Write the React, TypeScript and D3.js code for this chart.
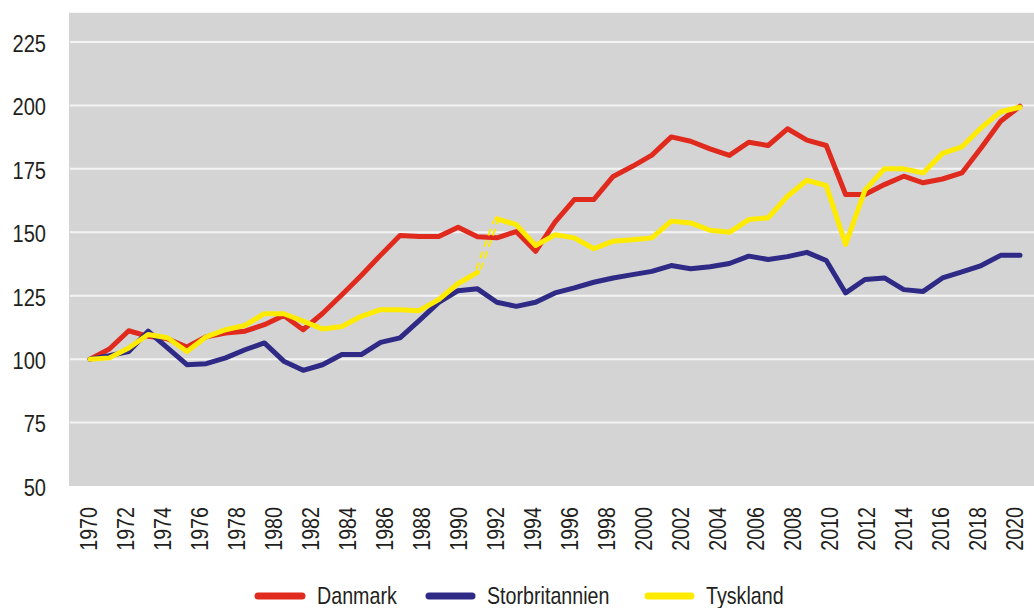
import React from "react";
import * as d3 from "d3";

// Tick labels on the category axis (every second year is labelled)
const axisYears: number[] = d3.range(1970, 2021, 2);
const yTicks: number[] = [50, 75, 100, 125, 150, 175, 200, 225];

// Series values (index 1970 = 100), 49 observations per series
const danmark: number[] = [
  100, 104, 111.2, 109, 108, 104.8, 108.8, 110.3, 111, 113.6,
  117.2, 111.6, 118, 125.4, 133, 141, 148.7, 148.3, 148.3, 152,
  148.2, 147.8, 150.3, 142.5, 154, 162.9, 162.9, 172, 176, 180.4,
  187.6, 185.9, 182.9, 180.3, 185.5, 184.2, 190.8, 186.3, 184.2, 164.9,
  164.9, 168.8, 172.1, 169.5, 171, 173.4, 183.3, 193.8, 199.7,
];
const storbritannien: number[] = [
  100, 101.4, 103, 111, 104.4, 97.8, 98.2, 100.5, 103.7, 106.4,
  99.2, 95.6, 97.8, 101.8, 101.8, 106.6, 108.4, 115.3, 122.4, 127,
  127.7, 122.4, 120.8, 122.4, 126.1, 128.1, 130.3, 132, 133.3, 134.6,
  136.9, 135.6, 136.4, 137.7, 140.6, 139.3, 140.4, 142.1, 138.9, 126.1,
  131.4, 132, 127.4, 126.7, 132, 134.4, 136.9, 140.9, 140.9,
];
const tyskland: number[] = [
  100, 100.5, 104.4, 109.7, 108.4, 103, 108.8, 111.6, 113.3, 117.9,
  117.9, 115, 111.9, 112.9, 116.9, 119.5, 119.5, 119.1, 123.5, 129.8,
  134.2, 155.3, 153, 144.8, 149, 147.8, 143.5, 146.5, 147.1, 147.8,
  154.4, 153.7, 150.8, 150, 155, 155.7, 164.2, 170.5, 168.4, 145.2,
  166.6, 175, 175, 173.4, 181.1, 183.7, 191.2, 197.5, 199.3,
];
// index after which the German series has a break (reunification)
const tysklandBreakAfter = 20;

const seriesNames: string[] = ["Danmark", "Storbritannien", "Tyskland"];
const seriesColors: string[] = ["#DF2A1D", "#2E2A86", "#FFEB00"];

const FONT = "'Liberation Sans', Arial, sans-serif";
const SQUEEZE = 0.82;
const textColor = "#231F20";

function CText(props: {
  x: number;
  y: number;
  rotate?: number;
  anchor?: "start" | "middle" | "end";
  size?: number;
  children: React.ReactNode;
}) {
  const { x, y, rotate = 0, anchor = "start", size = 24, children } = props;
  return (
    <text
      transform={`translate(${x},${y}) rotate(${rotate}) scale(${SQUEEZE},1)`}
      dy="0.36em"
      textAnchor={anchor}
      fontSize={size}
      fill={textColor}
    >
      {children}
    </text>
  );
}

export default function App() {
  const W = 1034;
  const H = 608;
  const plotLeft = 69;
  const plotRight = 1034;

  const y = d3.scaleLinear().domain([50, 225]).range([486, 42]);
  const yTop = 236.5;
  const plotTop = y(yTop);
  const plotBottom = y(50);

  const n = danmark.length;
  const xIdx = d3.scaleLinear().domain([0, n - 1]).range([90, 1020]);
  const xYear = d3.scaleLinear().domain([1970, 2020]).range([88.5, 1014]);

  const line = d3
    .line<number>()
    .x((_, i) => xIdx(i))
    .y((d) => y(d));

  const tyskA = tyskland.slice(0, tysklandBreakAfter + 1);
  const tyskB = tyskland.slice(tysklandBreakAfter + 1);
  const lineB = d3
    .line<number>()
    .x((_, i) => xIdx(i + tysklandBreakAfter + 1))
    .y((d) => y(d));

  const bx0 = xIdx(tysklandBreakAfter) + 1;
  const by0 = y(tyskland[tysklandBreakAfter]) - 3;
  const bx1 = xIdx(tysklandBreakAfter + 1) - 1;
  const by1 = y(tyskland[tysklandBreakAfter + 1]) + 2;

  const legendItems = [
    { name: seriesNames[0], color: seriesColors[0], x0: 258, x1: 302, tx: 317 },
    { name: seriesNames[1], color: seriesColors[1], x0: 429, x1: 472, tx: 487 },
    { name: seriesNames[2], color: seriesColors[2], x0: 648, x1: 691, tx: 706 },
  ];
  const legendY = 595;

  const lineProps = {
    fill: "none",
    strokeWidth: 5,
    strokeLinejoin: "round" as const,
    strokeLinecap: "round" as const,
  };

  return (
    <svg
      width={W}
      height={H}
      style={{ position: "absolute", left: 0, top: 0, display: "block" }}
      fontFamily={FONT}
    >
      <rect x={0} y={0} width={W} height={H} fill="#ffffff" />
      <rect
        x={plotLeft}
        y={plotTop}
        width={plotRight - plotLeft}
        height={plotBottom - plotTop}
        fill="#D4D4D4"
      />
      {yTicks
        .filter((t) => t > 50)
        .map((t) => (
          <line
            key={"g" + t}
            x1={plotLeft + 1}
            x2={plotRight}
            y1={y(t)}
            y2={y(t)}
            stroke="#F4F4F4"
            strokeWidth={2}
          />
        ))}
      {yTicks.map((t) => (
        <CText key={"yl" + t} x={46} y={y(t) + 1} anchor="end" size={24.5}>
          {t}
        </CText>
      ))}
      {axisYears.map((yr) => (
        <CText key={"xl" + yr} x={xYear(yr)} y={507} rotate={-90} anchor="end">
          {yr}
        </CText>
      ))}

      <path d={line(danmark) || ""} stroke={seriesColors[0]} {...lineProps} />
      <path d={line(storbritannien) || ""} stroke={seriesColors[1]} {...lineProps} />
      <path d={line(tyskA) || ""} stroke={seriesColors[2]} {...lineProps} />
      <path d={lineB(tyskB) || ""} stroke={seriesColors[2]} {...lineProps} />
      {[-2.2, 2.2].map((off) => (
        <line
          key={"br" + off}
          x1={bx0 + off}
          y1={by0}
          x2={bx1 + off}
          y2={by1}
          stroke={seriesColors[2]}
          strokeWidth={2}
          strokeDasharray="7,5"
        />
      ))}

      {legendItems.map((it) => (
        <g key={it.name}>
          <line
            x1={it.x0}
            x2={it.x1}
            y1={legendY + 1}
            y2={legendY + 1}
            stroke={it.color}
            strokeWidth={7}
            strokeLinecap="round"
          />
          <CText x={it.tx} y={legendY}>
            {it.name}
          </CText>
        </g>
      ))}
    </svg>
  );
}
